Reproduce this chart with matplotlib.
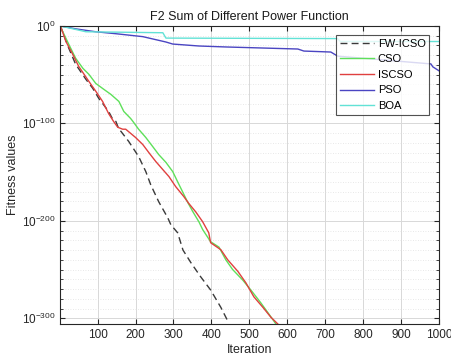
import numpy as np
import matplotlib
matplotlib.use("Agg")
import matplotlib.pyplot as plt

plt.rcParams['font.family'] = ['Liberation Sans', 'DejaVu Sans']

# Data (iteration, log10 fitness)
fw_it = [1, 5, 24, 42, 69, 87, 103, 129, 140, 148, 156, 161, 182, 208, 227, 240, 261, 285, 293, 311, 325, 346, 372, 398, 425, 446]
fw_lg = [0, -3.4, -23, -39.4, -54.8, -64, -74.4, -87.8, -96, -98, -106, -108, -118.6, -134, -149.5, -163, -180.4, -197, -204, -212.3, -230, -243, -257.6, -271, -288.9, -305]

cso_it = [1, 5, 24, 42, 61, 77, 95, 116, 135, 156, 169, 187, 193, 208, 227, 245, 261, 280, 298, 311, 325, 338, 351, 367, 377, 398, 420, 438, 456, 483, 504, 530, 557, 570]
cso_lg = [0, -3.4, -19, -33.2, -43.5, -49.7, -59, -65, -70.3, -77.5, -87.8, -95, -98, -106, -114.5, -123.7, -132, -140, -149.5, -160, -171, -181.4, -190.6, -201, -209, -221.5, -227, -240, -250, -261, -271, -284, -298.6, -305.8]

iscso_it = [1, 5, 16, 34, 50, 77, 95, 113, 129, 142, 153, 166, 174, 200, 219, 235, 253, 272, 288, 306, 327, 340, 359, 377, 393, 398, 425, 443, 470, 491, 512, 536, 557, 575]
iscso_lg = [0, -3.4, -15.7, -29, -41.5, -57, -67, -77.5, -90, -98, -104, -106, -106, -114.5, -121.7, -130, -139, -147.5, -154.6, -165, -175, -182, -191, -201, -212.3, -222.5, -229.7, -240, -252, -263.7, -278, -288.9, -299, -305.8]

pso_it = [1, 42, 95, 148, 219, 280, 298, 367, 438, 628, 644, 715, 733, 979, 984, 1000]
pso_lg = [0, -3, -6, -8, -11, -16.5, -18.6, -20.6, -21.6, -23.7, -25.8, -26.8, -31, -39, -42, -46]

boa_it = [1, 69, 272, 280, 733, 740, 1000]
boa_lg = [0, -6, -7, -12.5, -13, -16, -16]

series = [
    ("FW-ICSO", fw_it, fw_lg, dict(color='#3a3a3a', linestyle=(0, (5, 3)))),
    ("CSO", cso_it, cso_lg, dict(color='#5ee05a')),
    ("ISCSO", iscso_it, iscso_lg, dict(color='#e0403f')),
    ("PSO", pso_it, pso_lg, dict(color='#4a45c2')),
    ("BOA", boa_it, boa_lg, dict(color='#62e2d6')),
]

fig = plt.figure(figsize=(4.52, 3.60), dpi=100)
ax = fig.add_axes([0.133, 0.1, 0.838, 0.828])

for name, it, lg, st in series:
    ax.plot(it, 10.0 ** np.array(lg, dtype=float), lw=1.0, label=name, **st)

ax.set_yscale('log')
ax.set_xlim(1, 1000)
ax.set_ylim(10.0 ** -305.9, 1)
ax.set_xticks(np.arange(100, 1001, 100))
ax.set_yticks([1e-300, 1e-200, 1e-100, 1e0])
ax.set_yticklabels([r'$\mathregular{10^{-300}}$', r'$\mathregular{10^{-200}}$',
                    r'$\mathregular{10^{-100}}$', r'$\mathregular{10^{0}}$'])
ax.yaxis.set_minor_locator(matplotlib.ticker.FixedLocator(10.0 ** np.arange(-300, 0, 10)))
ax.yaxis.set_minor_formatter(matplotlib.ticker.NullFormatter())

ax.grid(True, which='major', color='#d8d8d8', lw=0.7)
ax.grid(True, which='minor', axis='y', color='#e0e0e0', lw=0.6, linestyle=(0, (1, 2)))
ax.set_axisbelow(True)
ax.tick_params(which='both', direction='in', top=True, right=True, labelsize=8.5, colors='#262626')
ax.tick_params(which='major', length=3.5)
ax.tick_params(which='minor', length=2)
for s in ax.spines.values():
    s.set_color('#262626')
    s.set_linewidth(0.8)

ax.set_title('F2 Sum of Different Power Function', fontsize=9, color='#1a1a1a', pad=4)
ax.set_xlabel('Iteration', fontsize=9, color='#262626', labelpad=2)
ax.set_ylabel('Fitness values', fontsize=9, color='#262626', labelpad=2)

leg = ax.legend(loc='upper right', bbox_to_anchor=(0.975, 0.97), borderaxespad=0,
                fontsize=8, frameon=True, fancybox=False, handlelength=3.1,
                handletextpad=0.3, labelspacing=0.5, borderpad=0.35)
leg.get_frame().set_edgecolor('#262626')
leg.get_frame().set_linewidth(0.8)

fig.savefig('out.png', dpi=100)
